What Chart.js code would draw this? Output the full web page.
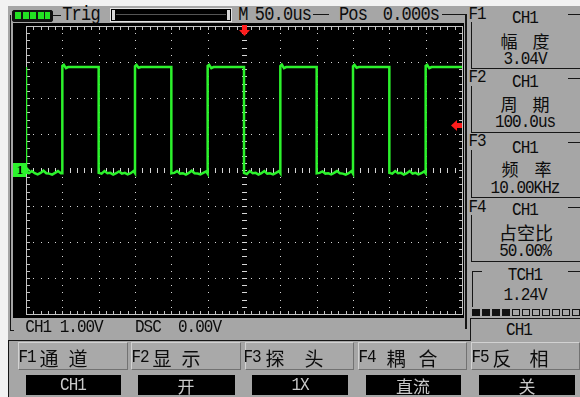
<!DOCTYPE html>
<html>
<head>
<meta charset="utf-8">
<script src="https://cdn.jsdelivr.net/npm/chart.js@4.4.1/dist/chart.umd.min.js"></script>
<style>
  html, body { margin: 0; padding: 0; }
  body { width: 580px; height: 397px; position: relative; overflow: hidden; background: #f2f2f2; color: #0c0c0c;
         font-family: "Liberation Mono", monospace; }
  #scr { position: absolute; left: 8px; top: 6px; width: 572px; height: 391px; background: #a6a6a6; }
  #scope { position: absolute; left: 13px; top: 23px; background: #000; }
  .ln { position: absolute; background: #161616; }
  .t { position: absolute; white-space: pre; font-size: 16px; letter-spacing: -1px; line-height: 1;
       transform: translate(-50%, -50%) scaleY(1.15); }
  .big { font-size: 17px; letter-spacing: -0.8px; }
  .z { position: absolute; white-space: pre; font-family: "Noto Sans CJK SC", sans-serif; font-size: 17px; line-height: 1;
       transform: translate(-50%, -50%); }
  .cell { position: absolute; top: 342px; height: 28px; box-sizing: border-box; background: #a9a9a9;
          border-top: 1px solid #d2d2d2; border-left: 1px solid #d2d2d2; border-right: 1px solid #727272; border-bottom: 1px solid #727272; }
  .box { position: absolute; top: 375px; height: 20px; background: #000; }
  .lt { color: #c9c9c9; }
  .sq { position: absolute; top: 309px; width: 8px; height: 7px; box-sizing: border-box; border: 1px solid #111; }
</style>
</head>
<body>
<div id="scr"></div>

<!-- cadre gauche + batterie + barre de déclenchement -->
<div class="ln" style="left:10px;top:15px;width:1px;height:316px"></div>
<div class="ln" style="left:10px;top:330px;width:4px;height:1px"></div>
<div style="position:absolute;left:12px;top:10px;width:39px;height:10px;border:1px solid #111;border-radius:2px;background:#111"></div>
<div style="position:absolute;left:15px;top:12px;width:6px;height:7px;background:#22e022"></div>
<div style="position:absolute;left:22.5px;top:12px;width:6px;height:7px;background:#22e022"></div>
<div style="position:absolute;left:30px;top:12px;width:6px;height:7px;background:#22e022"></div>
<div style="position:absolute;left:37.5px;top:12px;width:6px;height:7px;background:#22e022"></div>
<div style="position:absolute;left:45px;top:12px;width:5px;height:7px;background:#22e022"></div>
<div class="ln" style="left:53px;top:15px;width:8px;height:1px"></div>
<div class="t big" style="left:81px;top:15px">Trig</div>
<div style="position:absolute;left:110px;top:8px;width:120px;height:12px;border:1px solid #e4e4e4;background:#000"></div>
<div style="position:absolute;left:112px;top:10px;width:3px;height:10px;background:#d8d8d8"></div>
<div style="position:absolute;left:227px;top:10px;width:3px;height:10px;background:#d8d8d8"></div>
<div style="position:absolute;left:116px;top:14px;width:110px;height:1px;background:#555"></div>

<div class="t big" style="left:243px;top:15px">M</div>
<div class="t big" style="left:283px;top:15px">50.0us</div>
<div class="ln" style="left:313px;top:14px;width:16px;height:1px"></div>
<div class="t big" style="left:353px;top:15px">Pos</div>
<div class="t big" style="left:411px;top:15px">0.000s</div>
<div class="ln" style="left:442px;top:14px;width:24px;height:1px"></div>
<div class="ln" style="left:465px;top:14px;width:2px;height:315px"></div>

<canvas id="scope" width="451" height="295"></canvas>

<!-- panneau de droite -->
<div class="t" style="left:477px;top:14px">F1</div>
<div class="ln" style="left:568px;top:14px;width:12px;height:1px"></div>
<div class="t" style="left:525px;top:18px">CH1</div>
<div class="z" style="left:509px;top:40px">幅</div>
<div class="z" style="left:541px;top:40px">度</div>
<div class="t" style="left:525px;top:59px">3.04V</div>
<div class="ln" style="left:471px;top:22px;width:1px;height:46px"></div>
<div class="ln" style="left:471px;top:68px;width:109px;height:1px"></div>

<div class="t" style="left:477px;top:77px">F2</div>
<div class="ln" style="left:568px;top:78px;width:12px;height:1px"></div>
<div class="t" style="left:525px;top:82px">CH1</div>
<div class="z" style="left:509px;top:103px">周</div>
<div class="z" style="left:541px;top:103px">期</div>
<div class="t" style="left:525px;top:122px">100.0us</div>
<div class="ln" style="left:471px;top:86px;width:1px;height:46px"></div>
<div class="ln" style="left:471px;top:132px;width:109px;height:1px"></div>

<div class="t" style="left:477px;top:141px">F3</div>
<div class="ln" style="left:568px;top:142px;width:12px;height:1px"></div>
<div class="t" style="left:525px;top:148px">CH1</div>
<div class="z" style="left:510px;top:168px">频</div>
<div class="z" style="left:543px;top:168px">率</div>
<div class="t" style="left:525px;top:188px">10.00KHz</div>
<div class="ln" style="left:471px;top:150px;width:1px;height:47px"></div>
<div class="ln" style="left:471px;top:197px;width:109px;height:1px"></div>

<div class="t" style="left:477px;top:207px">F4</div>
<div class="ln" style="left:568px;top:207px;width:12px;height:1px"></div>
<div class="t" style="left:525px;top:210px">CH1</div>
<div class="z" style="left:526px;top:232px;font-size:18px">占空比</div>
<div class="t" style="left:525px;top:251px">50.00%</div>
<div class="ln" style="left:471px;top:215px;width:1px;height:46px"></div>
<div class="ln" style="left:471px;top:261px;width:109px;height:1px"></div>

<div class="ln" style="left:472px;top:271px;width:10px;height:1px"></div>
<div class="ln" style="left:568px;top:271px;width:12px;height:1px"></div>
<div class="ln" style="left:472px;top:271px;width:1px;height:36px"></div>
<div class="t" style="left:525px;top:275px">TCH1</div>
<div class="t" style="left:525px;top:295px">1.24V</div>

<div class="sq" style="left:472px;background:#111"></div>
<div class="sq" style="left:482px;background:#111"></div>
<div class="sq" style="left:492px;background:#111"></div>
<div class="sq" style="left:502px;background:#111"></div>
<div class="sq" style="left:512px"></div>
<div class="sq" style="left:522px"></div>
<div class="sq" style="left:532px"></div>
<div class="sq" style="left:542px"></div>
<div class="sq" style="left:552px"></div>
<div class="sq" style="left:562px"></div>
<div class="sq" style="left:572px"></div>

<div class="ln" style="left:470px;top:318px;width:110px;height:1px"></div>
<div class="ln" style="left:470px;top:318px;width:1px;height:23px"></div>
<div class="t" style="left:519px;top:330px">CH1</div>

<!-- ligne d'état sous l'écran -->
<div class="t" style="left:64px;top:327px">CH1 1.00V</div>
<div class="t" style="left:178px;top:327px">DSC  0.00V</div>
<div class="ln" style="left:8px;top:340px;width:463px;height:1px"></div>
<div class="ln" style="left:8px;top:340px;width:1px;height:57px"></div>

<!-- menu des touches F1..F5 -->
<div class="cell" style="left:18px;width:110px"></div>
<div class="cell" style="left:131px;width:110px"></div>
<div class="cell" style="left:245px;width:109px"></div>
<div class="cell" style="left:358px;width:109px"></div>
<div class="cell" style="left:471px;width:109px"></div>

<div class="t" style="left:27px;top:357px">F1</div>
<div class="z" style="left:49px;top:357px;font-size:19px">通</div>
<div class="z" style="left:78px;top:357px;font-size:19px">道</div>
<div class="t" style="left:140px;top:357px">F2</div>
<div class="z" style="left:162px;top:357px;font-size:19px">显</div>
<div class="z" style="left:191px;top:357px;font-size:19px">示</div>
<div class="t" style="left:252px;top:357px">F3</div>
<div class="z" style="left:275px;top:357px;font-size:19px">探</div>
<div class="z" style="left:314px;top:357px;font-size:19px">头</div>
<div class="t" style="left:367px;top:357px">F4</div>
<div class="z" style="left:396px;top:357px;font-size:19px">耦</div>
<div class="z" style="left:428px;top:357px;font-size:19px">合</div>
<div class="t" style="left:480px;top:357px">F5</div>
<div class="z" style="left:502px;top:357px;font-size:19px">反</div>
<div class="z" style="left:539px;top:357px;font-size:19px">相</div>

<div class="box" style="left:26px;width:95px"></div>
<div class="box" style="left:138px;width:97px"></div>
<div class="box" style="left:252px;width:96px"></div>
<div class="box" style="left:366px;width:95px"></div>
<div class="box" style="left:479px;width:96px"></div>
<div class="t lt" style="left:73px;top:385px">CH1</div>
<div class="z lt" style="left:186px;top:385px">开</div>
<div class="t lt" style="left:300px;top:385px">1X</div>
<div class="z lt" style="left:413px;top:385px">直流</div>
<div class="z lt" style="left:527px;top:385px">关</div>

<script>
// oscillo — trace CH1 (50 us/div, 1.00 V/div)

const TRACE = '#2cf22c';
const DOT = '#d6d6d6';
const FRAME = '#c4c4c4';
const RED = '#ff1c1c';

const X_MIN = 0, X_MAX = 600, X_DIV = 50, X_MINOR = 10;   // us
const Y_MIN = -4, Y_MAX = 4, Y_DIV = 1, Y_MINOR = 0.2;     // V
const TRIG_POS = 300;    // us
const TRIG_LEVEL = 1.24; // V

// relevé du signal carré, segment par segment (bas puis haut)
const traceUs = [
  0, 0, 4, 8, 12, 16, 20, 24, 28, 32, 36, 40, 44, 48,
  50, 50, 52, 55, 58, 100,
  100, 104, 108, 112, 116, 120, 124, 128, 132, 136, 140, 144, 148,
  150, 150, 152, 155, 158, 200,
  200, 204, 208, 212, 216, 220, 224, 228, 232, 236, 240, 244, 248,
  250, 250, 252, 255, 258, 300,
  300, 304, 308, 312, 316, 320, 324, 328, 332, 336, 340, 344, 348,
  350, 350, 352, 355, 358, 400,
  400, 404, 408, 412, 416, 420, 424, 428, 432, 436, 440, 444, 448,
  450, 450, 452, 455, 458, 500,
  500, 504, 508, 512, 516, 520, 524, 528, 532, 536, 540, 544, 548,
  550, 550, 552, 555, 558, 600
];
const traceV = [
  2.86, -0.07, -0.09, -0.03, -0.09, -0.12, -0.08, -0.02, -0.09, -0.10, -0.13, -0.08, -0.03, -0.09,
  -0.09, 2.89, 2.92, 2.83, 2.86, 2.86,
  -0.08, -0.10, -0.03, -0.09, -0.08, -0.13, -0.09, -0.04, -0.10, -0.08, -0.12, -0.09, -0.03,
  -0.09, 2.88, 2.92, 2.84, 2.86, 2.86,
  -0.09, -0.08, -0.03, -0.10, -0.09, -0.13, -0.08, -0.02, -0.09, -0.10, -0.12, -0.08, -0.04,
  -0.10, 2.89, 2.92, 2.83, 2.86, 2.86,
  -0.08, -0.11, -0.03, -0.09, -0.08, -0.13, -0.09, -0.03, -0.10, -0.09, -0.12, -0.08, -0.03,
  -0.09, 2.89, 2.93, 2.83, 2.86, 2.86,
  -0.09, -0.08, -0.04, -0.10, -0.09, -0.12, -0.08, -0.03, -0.09, -0.10, -0.13, -0.09, -0.03,
  -0.10, 2.88, 2.92, 2.84, 2.86, 2.86,
  -0.08, -0.10, -0.03, -0.09, -0.08, -0.13, -0.09, -0.03, -0.10, -0.08, -0.12, -0.09, -0.04,
  -0.09, 2.89, 2.92, 2.83, 2.86, 2.86
];

/**
 * Réticule de l'oscillo : pointillés par division, croix centrale graduée, cadre gradué.
 */
const graticule = {
  id: 'graticule',
  beforeDatasetsDraw(chart) {
    const { ctx, chartArea: a, scales: { x, y } } = chart;
    const px = v => Math.round(x.getPixelForValue(v));
    const py = v => Math.round(y.getPixelForValue(v));
    const xc = px((X_MIN + X_MAX) / 2), yc = py(0);
    ctx.save();
    ctx.fillStyle = DOT;
    for (let d = X_MIN + X_DIV; d < X_MAX; d += X_DIV) {
      if (px(d) === xc) continue;
      for (let m = Y_MIN; m <= Y_MAX + 1e-6; m += Y_MINOR) ctx.fillRect(px(d), py(m), 1, 1);
    }
    for (let d = Y_MIN + Y_DIV; d < Y_MAX; d += Y_DIV) {
      if (py(d) === yc) continue;
      for (let m = X_MIN; m <= X_MAX; m += X_MINOR) ctx.fillRect(px(m), py(d), 1, 1);
    }
    // croix centrale
    for (let m = Y_MIN; m <= Y_MAX + 1e-6; m += Y_MINOR) ctx.fillRect(xc - 2, py(m), 5, 1);
    for (let m = X_MIN; m <= X_MAX; m += X_MINOR) ctx.fillRect(px(m), yc - 2, 1, 5);
    // cadre + graduations
    ctx.fillStyle = FRAME;
    const L = Math.round(a.left), R = Math.round(a.right), T = Math.round(a.top), B = Math.round(a.bottom);
    ctx.fillRect(L, T, R - L + 1, 1);
    ctx.fillRect(L, B, R - L + 1, 1);
    ctx.fillRect(L, T, 1, B - T + 1);
    ctx.fillRect(R, T, 1, B - T + 1);
    for (let m = X_MIN; m <= X_MAX; m += X_MINOR) {
      ctx.fillRect(px(m), T, 1, 4);
      ctx.fillRect(px(m), B - 3, 1, 4);
    }
    for (let m = Y_MIN; m <= Y_MAX + 1e-6; m += Y_MINOR) {
      ctx.fillRect(L, py(m), 4, 1);
      ctx.fillRect(R - 3, py(m), 4, 1);
    }
    ctx.restore();
  },
  afterDatasetsDraw(chart) {
    const { ctx, chartArea: a, scales: { x, y } } = chart;
    ctx.save();
    // repère de masse CH1
    const y0 = Math.round(y.getPixelForValue(0));
    ctx.fillStyle = TRACE;
    ctx.fillRect(a.left - 13, y0 - 7, 13, 14);
    ctx.beginPath();
    ctx.moveTo(a.left, y0 - 4); ctx.lineTo(a.left + 4, y0); ctx.lineTo(a.left, y0 + 4); ctx.closePath();
    ctx.fill();
    ctx.fillStyle = '#000';
    ctx.font = 'bold 13px "Liberation Serif", serif';
    ctx.textAlign = 'center';
    ctx.textBaseline = 'middle';
    ctx.fillText('1', a.left - 6, y0 + 1);
    // flèches rouges : position et niveau de déclenchement
    ctx.fillStyle = RED;
    const xt = Math.round(x.getPixelForValue(TRIG_POS));
    ctx.fillRect(xt - 2, a.top - 1, 5, 5);
    ctx.beginPath();
    ctx.moveTo(xt - 5, a.top + 4); ctx.lineTo(xt + 6, a.top + 4); ctx.lineTo(xt + 0.5, a.top + 10); ctx.closePath();
    ctx.fill();
    const yt = Math.round(y.getPixelForValue(TRIG_LEVEL));
    ctx.fillRect(a.right - 5, yt - 2, 5, 5);
    ctx.beginPath();
    ctx.moveTo(a.right - 5, yt - 5); ctx.lineTo(a.right - 5, yt + 6); ctx.lineTo(a.right - 11, yt + 0.5); ctx.closePath();
    ctx.fill();
    ctx.restore();
  }
};

new Chart(document.getElementById('scope'), {
  type: 'line',
  data: {
    datasets: [{
      data: traceUs.map((t, i) => ({ x: t, y: traceV[i] })),
      borderColor: TRACE,
      borderWidth: 2.5,
      borderJoinStyle: 'miter',
      pointRadius: 0,
      tension: 0,
      fill: false
    }]
  },
  options: {
    responsive: false,
    animation: false,
    devicePixelRatio: 1,
    events: [],
    layout: { padding: { left: 13, top: 3, right: 2, bottom: 4 } },
    plugins: { legend: { display: false }, tooltip: { enabled: false } },
    scales: {
      x: { type: 'linear', min: X_MIN, max: X_MAX, display: false },
      y: { type: 'linear', min: Y_MIN, max: Y_MAX, display: false }
    }
  },
  plugins: [graticule]
});
</script>
</body>
</html>
